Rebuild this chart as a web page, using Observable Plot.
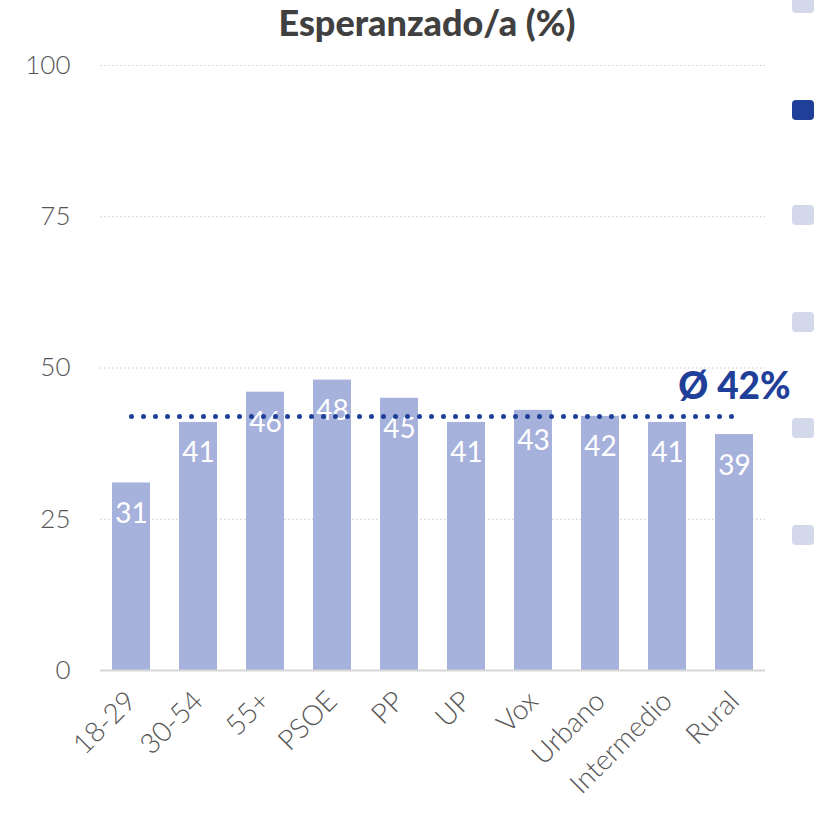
<!DOCTYPE html>
<html>
<head>
<meta charset="utf-8">
<script src="https://cdn.jsdelivr.net/npm/d3@7"></script>
<script src="https://cdn.jsdelivr.net/npm/@observablehq/plot@0.6"></script>
<style>
  html, body { margin: 0; padding: 0; background: #fff; }
  #wrap { position: relative; width: 828px; height: 814px; overflow: hidden; }
  #title { position: absolute; left: 0; width: 854px; top: 0px; text-align: center;
           font-family: Lato, sans-serif; font-weight: 900; font-size: 36px; color: #404040; }
  .sq { position: absolute; left: 792px; width: 22px; height: 20px; border-radius: 4px; background: #d3d8ea; }
  #chart { position: absolute; left: 0; top: 0; }
</style>
</head>
<body>
<div id="wrap">
  <div id="chart"></div>
  <div id="title">Esperanzado/a (%)</div>
</div>
<script>
const categories = ["18-29", "30-54", "55+", "PSOE", "PP", "UP", "Vox", "Urbano", "Intermedio", "Rural"];
const values = [31, 41, 46, 48, 45, 41, 43, 42, 41, 39];
const average = 42;
const averageLabel = "Ø 42%";
const yTicks = [0, 25, 50, 75, 100];
const legendTops = [-7, 100, 205, 312, 418, 525];
const legendActive = [false, true, false, false, false, false];

const data = categories.map((c, i) => ({cat: c, value: values[i]}));
const avgLine = categories.map(c => ({cat: c, v: average}));

const chart = Plot.plot({
  width: 828,
  height: 814,
  marginLeft: 100,
  marginRight: 63,
  marginTop: 65,
  marginBottom: 144,
  style: {fontFamily: "Lato, sans-serif", color: "#555", background: "transparent"},
  x: {domain: categories, paddingInner: 0.43, paddingOuter: 0.17, label: null},
  y: {domain: [0, 100], label: null},
  marks: [
    Plot.gridY(yTicks.filter(t => t > 0), {stroke: "#c8c8c8", strokeOpacity: 1, strokeDasharray: "1.5,2.5"}),
    Plot.barY(data, {x: "cat", y: "value", fill: "#a7b2dc"}),
    Plot.ruleY([0], {stroke: "#d6d6d6", strokeWidth: 2}),
    Plot.axisY(yTicks, {tickSize: 0, tickPadding: 30, fontSize: 26, fontWeight: 300, fill: "#555"}),
    Plot.axisX({tickSize: 0, tickPadding: 26, tickRotate: -45, fontSize: 28, fontWeight: 300, fill: "#555"}),
    Plot.text(data, {x: "cat", y: "value", text: d => String(d.value), dy: 31, fill: "white", fontSize: 28, fontWeight: 400}),
    Plot.lineY(avgLine, {x: "cat", y: "v", stroke: "#1f3f99", strokeWidth: 5, strokeDasharray: "0,12", strokeLinecap: "round"}),
    Plot.text([average], {x: () => categories[categories.length - 1], y: d => d, text: () => averageLabel, dy: -29, fill: "#1f3f99", fontSize: 37, fontWeight: 900})
  ]
});
document.getElementById("chart").appendChild(chart);

const wrap = document.getElementById("wrap");
legendTops.forEach((t, i) => {
  const d = document.createElement("div");
  d.className = "sq";
  d.style.top = t + "px";
  if (legendActive[i]) d.style.background = "#1f3f99";
  wrap.appendChild(d);
});
</script>
</body>
</html>
